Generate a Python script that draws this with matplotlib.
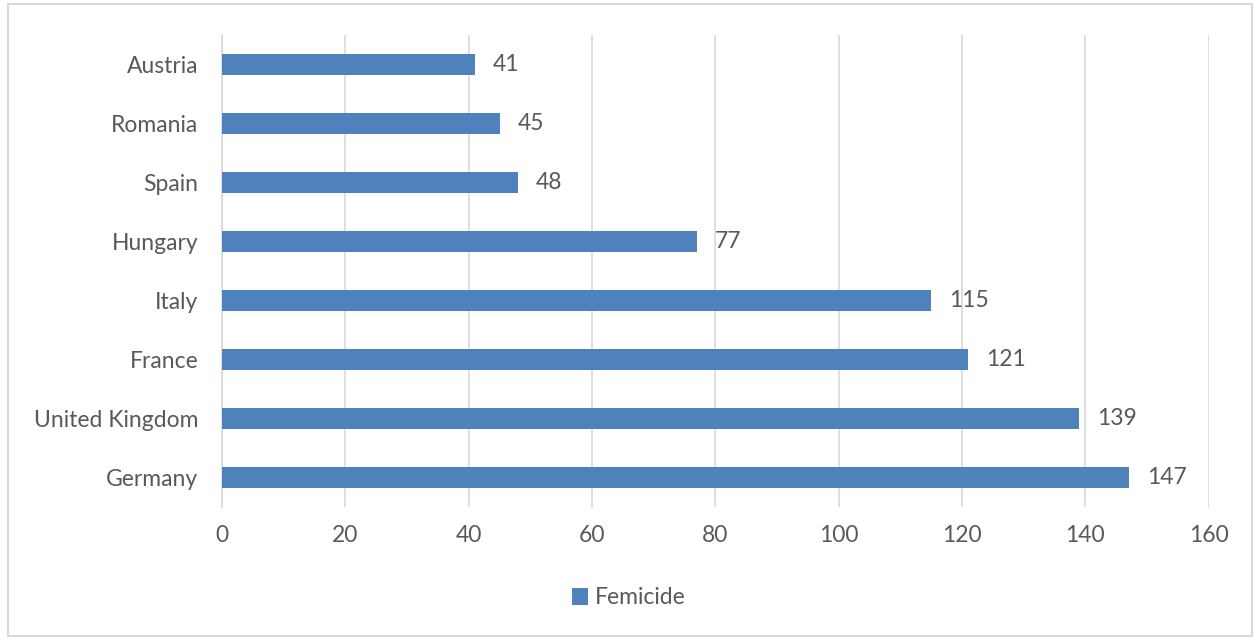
import matplotlib.pyplot as plt
from matplotlib.patches import Rectangle

countries = ["Austria", "Romania", "Spain", "Hungary", "Italy", "France",
             "United Kingdom", "Germany"]
femicide = [41, 45, 48, 77, 115, 121, 139, 147]
xticks = [0, 20, 40, 60, 80, 100, 120, 140, 160]

plt.rcParams['font.family'] = ['Lato', 'DejaVu Sans']
txt = '#595959'
bar_col = '#4F81BD'
fs = 16.5

fig = plt.figure(figsize=(12.57, 6.41), dpi=100)
ax = fig.add_axes([0.1766, 0.209, 0.785, 0.736])

y = list(range(len(countries)))
ax.barh(y, femicide, height=0.36, color=bar_col, label='Femicide', zorder=3)
for yi, v in zip(y, femicide):
    ax.annotate(str(v), (v, yi), xytext=(13, 0), textcoords='offset points',
                va='center', ha='left', fontsize=fs, color=txt)

ax.set_ylim(len(countries) - 0.5, -0.5)
ax.set_xlim(0, 160)
ax.set_xticks(xticks)
ax.set_yticks(y)
ax.set_yticklabels(countries)
ax.tick_params(axis='both', length=0, labelsize=fs, labelcolor=txt)
ax.tick_params(axis='y', pad=17)
ax.tick_params(axis='x', pad=13)
ax.grid(axis='x', color='#D9D9D9', linewidth=1.2, zorder=0)
for s in ['top', 'right', 'bottom']:
    ax.spines[s].set_visible(False)
ax.spines['left'].set_color('#D9D9D9')
ax.spines['left'].set_linewidth(1.2)

leg = fig.legend(loc='center', bbox_to_anchor=(0.5, 1 - 598 / 641), frameon=False,
                 fontsize=fs, handlelength=0.7, handleheight=0.7, handletextpad=0.3)
for t in leg.get_texts():
    t.set_color(txt)

fig.patches.append(Rectangle((0.006, 0.008), 0.99, 0.985, transform=fig.transFigure,
                             fill=False, edgecolor='#D9D9D9', linewidth=1.5))

fig.savefig('out.png', dpi=100)
